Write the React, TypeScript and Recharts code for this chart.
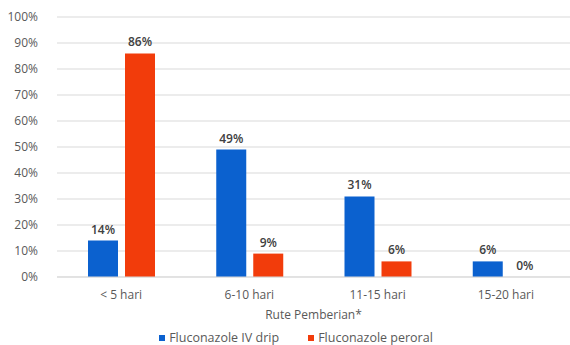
import React from "react";
import { BarChart, Bar, XAxis, YAxis, CartesianGrid, Legend } from "recharts";

// Duration groups and the share of patients for each route of administration (%)
const categories = ["< 5 hari", "6-10 hari", "11-15 hari", "15-20 hari"];
const ivDrip = [14, 49, 31, 6];
const peroral = [86, 9, 6, 0];
const yTicks = [0, 10, 20, 30, 40, 50, 60, 70, 80, 90, 100];

const seriesNames = ["Fluconazole IV drip", "Fluconazole peroral"];
const colors = ["#0b61cf", "#f23c0b"];

const data = categories.map((c, i) => ({ name: c, iv: ivDrip[i], po: peroral[i] }));

const FONT = "'Open Sans', sans-serif";

// Percentage label above each bar (also drawn for zero-height bars)
const ValueLabel = (props: any) => {
  const { x, y, width, value } = props;
  if (value === undefined || value === null) return null;
  return (
    <text
      x={Number(x) + Number(width) / 2}
      y={Number(y) - 7}
      textAnchor="middle"
      fontFamily={FONT}
      fontSize={12}
      fontWeight={600}
      fill="#404040"
    >
      {`${value}%`}
    </text>
  );
};

const LegendContent = () => (
  <div
    style={{
      display: "flex",
      justifyContent: "center",
      alignItems: "flex-end",
      height: 18,
      lineHeight: "14px",
      fontFamily: FONT,
      fontSize: 12.5,
      color: "#595959",
      paddingLeft: 22,
    }}
  >
    {seriesNames.map((n, i) => (
      <div key={n} style={{ display: "flex", alignItems: "center", marginRight: i === 0 ? 29 : 0 }}>
        <span style={{ width: 6, height: 6, background: colors[i], display: "inline-block", marginRight: 4 }} />
        <span>{n}</span>
      </div>
    ))}
  </div>
);

export default function App() {
  return (
    <div style={{ position: "absolute", left: 0, top: 0, background: "#fff" }}>
      <BarChart
        width={570}
        height={345}
        data={data}
        margin={{ top: 17, right: 0, left: 0, bottom: 0 }}
        barCategoryGap={31}
        barGap={7}
      >
        <CartesianGrid vertical={false} stroke="#d9d9d9" />
        <XAxis
          dataKey="name"
          height={50}
          tickLine={false}
          axisLine={{ stroke: "#d9d9d9" }}
          tick={{ fontFamily: FONT, fontSize: 12, fill: "#595959" }}
          tickMargin={7}
          label={{
            value: "Rute Pemberian*",
            position: "insideBottom",
            offset: 8,
            style: { fontFamily: FONT, fontSize: 12, fill: "#595959" },
          }}
        />
        <YAxis
          width={57}
          domain={[0, 100]}
          ticks={yTicks}
          interval={0}
          tickFormatter={(v) => `${v}%`}
          tickLine={false}
          axisLine={false}
          tickMargin={13}
          tick={{ fontFamily: FONT, fontSize: 12, fill: "#595959" }}
        />
        <Legend verticalAlign="bottom" content={<LegendContent />} />
        <Bar
          dataKey="iv"
          name={seriesNames[0]}
          fill={colors[0]}
          isAnimationActive={false}
          label={ValueLabel}
        />
        <Bar
          dataKey="po"
          name={seriesNames[1]}
          fill={colors[1]}
          isAnimationActive={false}
          minPointSize={0.01}
          label={ValueLabel}
        />
      </BarChart>
    </div>
  );
}
